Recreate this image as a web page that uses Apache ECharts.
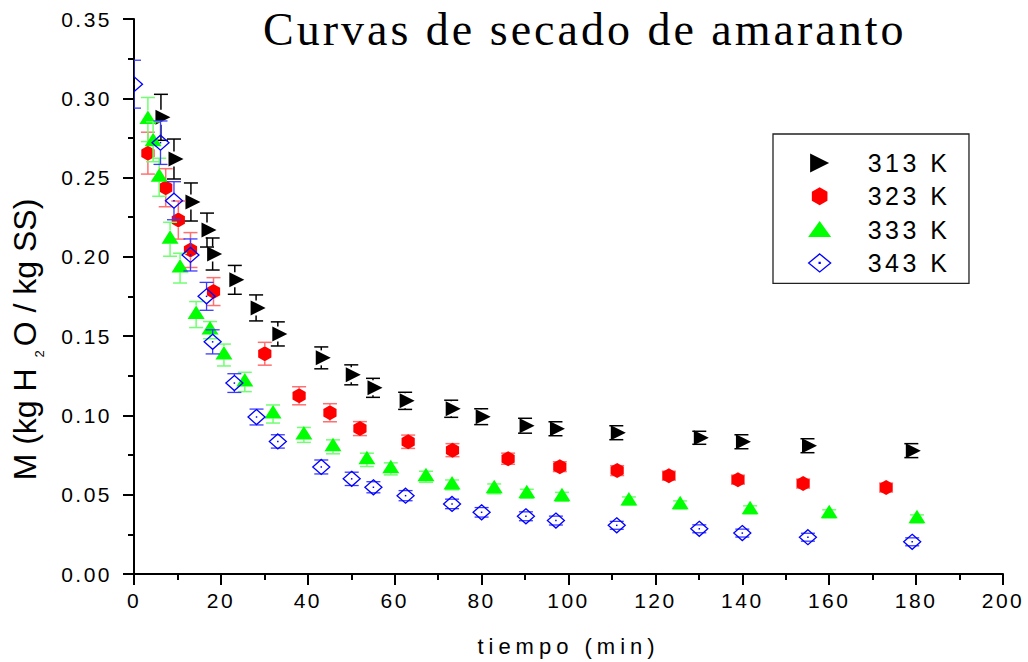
<!DOCTYPE html>
<html>
<head>
<meta charset="utf-8">
<script src="https://cdn.jsdelivr.net/npm/echarts@6/dist/echarts.min.js"></script>
<style>
  html, body { margin: 0; padding: 0; background: #fff; }
  #chart { width: 1028px; height: 662px; }
  /* spaced lettering for tick labels, axis title, legend and title */
  #chart text[style*="21px"] { letter-spacing: 2.5px; }
  #chart text[style*="22px"] { letter-spacing: 5px; }
  #chart text[style*="25px"] { letter-spacing: 3.5px; }
  #chart text[style*="46px"] { letter-spacing: 3px; }
</style>
</head>
<body>
<div id="chart"></div>
<script>
// Drying curves of amaranth: moisture M (kg H2O / kg dry solid) vs time (min)
const seriesNames = ['313 K', '323 K', '333 K', '343 K'];

const t313 = [6.2, 9.2, 13.1, 16.8, 18.1, 23.2, 28.1, 33.1, 43.1, 50.0, 55.0, 62.4, 73.0, 79.9, 90.0, 97.0, 111.0, 130.1, 139.8, 155.0, 178.9];
const m313 = [0.288, 0.2617, 0.2346, 0.2169, 0.2018, 0.1855, 0.1678, 0.1514, 0.1363, 0.1256, 0.1174, 0.1092, 0.1042, 0.0992, 0.0935, 0.0916, 0.0891, 0.0859, 0.0834, 0.0809, 0.0778];
const e313 = [0.0145, 0.0126, 0.012, 0.0107, 0.0101, 0.0091, 0.0082, 0.0076, 0.0069, 0.0063, 0.006, 0.0054, 0.0054, 0.005, 0.0047, 0.0044, 0.0044, 0.0041, 0.0044, 0.0044, 0.0044];

const t323 = [3.2, 7.3, 10.2, 13.0, 18.3, 30.1, 38.0, 45.1, 52.0, 63.1, 73.3, 86.1, 98.0, 111.2, 123.1, 139.0, 154.0, 173.1];
const m323 = [0.2654, 0.2436, 0.2232, 0.2043, 0.1781, 0.1389, 0.1124, 0.1017, 0.0917, 0.0834, 0.0781, 0.0727, 0.0677, 0.0652, 0.062, 0.0595, 0.057, 0.0545];
const e323 = [0.0132, 0.012, 0.012, 0.011, 0.0088, 0.0072, 0.0057, 0.0057, 0.0044, 0.0042, 0.0041, 0.0035, 0.0031, 0.0031, 0.0028, 0.0028, 0.0028, 0.0028];

const t333 = [3.2, 4.4, 5.8, 8.3, 10.6, 14.3, 17.5, 20.7, 25.5, 32.0, 39.1, 45.8, 53.6, 59.1, 67.2, 73.2, 82.9, 90.4, 98.5, 113.9, 125.7, 141.8, 160.0, 180.2];
const m333 = [0.2866, 0.2726, 0.2502, 0.2111, 0.1929, 0.1636, 0.1538, 0.1381, 0.1211, 0.1009, 0.0877, 0.0802, 0.072, 0.0663, 0.0613, 0.0562, 0.0537, 0.0506, 0.0487, 0.0461, 0.0436, 0.0405, 0.038, 0.0348];
const e333 = [0.0139, 0.0126, 0.012, 0.0107, 0.0094, 0.0082, 0.0054, 0.0069, 0.0061, 0.0057, 0.0047, 0.0044, 0.0042, 0.0038, 0.0035, 0.0031, 0.0031, 0.0028, 0.0028, 0.0025, 0.0025, 0.0025, 0.0025, 0.0025];

const t343 = [0, 6.1, 9.2, 13.0, 16.7, 18.1, 23.1, 28.2, 33.1, 43.1, 50.1, 55.1, 62.5, 73.2, 80.0, 90.2, 97.1, 111.1, 130.1, 140.0, 155.1, 179.1];
const m343 = [0.3089, 0.272, 0.2354, 0.2012, 0.1751, 0.1464, 0.1204, 0.099, 0.0836, 0.0675, 0.06, 0.0547, 0.0494, 0.0442, 0.0389, 0.0364, 0.0337, 0.0307, 0.0285, 0.0258, 0.0232, 0.0203];
const e343 = [0.0151, 0.0137, 0.012, 0.0101, 0.0088, 0.0076, 0.0059, 0.005, 0.0042, 0.0044, 0.0042, 0.0035, 0.0032, 0.003, 0.003, 0.0028, 0.0028, 0.0025, 0.0025, 0.0025, 0.0025, 0.0025];

const xMin = 0, xMax = 200, xStep = 20;
const yMin = 0, yMax = 0.35, yStep = 0.05;

const SANS = 'Liberation Sans';
const SERIF = 'Liberation Serif';

// Marker outlines, offsets in pixels from the data point
const markers = {
  rightTri: { pts: [[-5.5, -7.5], [9.5, 0], [-5.5, 7.5]], top: 7.5, bottom: 7.5, fill: '#000000', stroke: null },
  hexagon: { pts: [[0, -7.5], [6.6, -3.75], [6.6, 3.75], [0, 7.5], [-6.6, 3.75], [-6.6, -3.75]], top: 7.5, bottom: 7.5, fill: '#ff0000', stroke: null },
  upTri: { pts: [[0, -9], [8.5, 4.5], [-8.5, 4.5]], top: 9, bottom: 4.5, fill: '#00ff00', stroke: null },
  diamond: { pts: [[0, -7.5], [8.5, 0], [0, 7.5], [-8.5, 0]], top: 7.5, bottom: 7.5, fill: 'none', stroke: '#0000ff', dot: true }
};

function makeSeries(name, ts, ms, es, mk, color, barColor, barWidth) {
  return {
    type: 'custom',
    name: name,
    clip: true,
    itemStyle: { color: color },
    data: ts.map((t, i) => [t, ms[i], es[i]]),
    encode: { x: 0, y: 1 },
    renderItem: function (params, api) {
      const t = api.value(0), m = api.value(1), e = api.value(2);
      const p = api.coord([t, m]);
      const hi = api.coord([t, m + e])[1];
      const lo = api.coord([t, m - e])[1];
      const half = 7;
      const bar = { stroke: barColor, lineWidth: barWidth };
      const kids = [];
      if (hi < p[1] - mk.top) {
        kids.push({ type: 'line', shape: { x1: p[0], y1: hi, x2: p[0], y2: p[1] - mk.top }, style: bar });
      }
      if (lo > p[1] + mk.bottom) {
        kids.push({ type: 'line', shape: { x1: p[0], y1: p[1] + mk.bottom, x2: p[0], y2: lo }, style: bar });
      }
      kids.push({ type: 'line', shape: { x1: p[0] - half, y1: hi, x2: p[0] + half, y2: hi }, style: bar });
      kids.push({ type: 'line', shape: { x1: p[0] - half, y1: lo, x2: p[0] + half, y2: lo }, style: bar });
      kids.push({
        type: 'polygon',
        shape: { points: mk.pts.map(q => [p[0] + q[0], p[1] + q[1]]) },
        style: mk.stroke ? { fill: 'none', stroke: mk.stroke, lineWidth: 1.3 } : { fill: mk.fill }
      });
      if (mk.dot) {
        kids.push({ type: 'rect', shape: { x: p[0] - 0.75, y: p[1] - 0.75, width: 1.5, height: 1.5 }, style: { fill: mk.stroke } });
      }
      return { type: 'group', children: kids };
    }
  };
}

const chart = echarts.init(document.getElementById('chart'), null, { renderer: 'svg' });

const axisCommon = {
  type: 'value',
  axisLine: { show: true, onZero: false, lineStyle: { color: '#000', width: 2 } },
  axisTick: { show: true, inside: false, length: 11, lineStyle: { color: '#000', width: 2 } },
  minorTick: { show: true, splitNumber: 2, length: 6, lineStyle: { color: '#000', width: 2 } },
  splitLine: { show: false },
  minorSplitLine: { show: false }
};

chart.setOption({
  animation: false,
  backgroundColor: '#ffffff',
  title: {
    text: 'Curvas de secado de amaranto',
    left: 263,
    top: 6,
    padding: 0,
    textStyle: { fontFamily: SERIF, fontSize: 46, fontWeight: 'normal', color: '#000' }
  },
  grid: { left: 134, right: 25, top: 19, bottom: 87.5, containLabel: false },
  xAxis: Object.assign({}, axisCommon, {
    min: xMin, max: xMax, interval: xStep,
    name: 'tiempo (min)',
    nameLocation: 'middle',
    nameGap: 61,
    nameTextStyle: { fontFamily: SANS, fontSize: 22, color: '#000' },
    axisLabel: { fontFamily: SANS, fontSize: 21, color: '#000', margin: 16 }
  }),
  yAxis: Object.assign({}, axisCommon, {
    min: yMin, max: yMax, interval: yStep,
    name: '{a|M (kg H }{s|2}{a|O / kg SS)}',
    nameLocation: 'middle',
    nameRotate: 90,
    nameGap: 88,
    nameTextStyle: {
      color: '#000',
      padding: [0, 86, 0, 0],
      rich: {
        a: { fontFamily: SANS, fontSize: 32, color: '#000' },
        s: { fontFamily: SANS, fontSize: 13, color: '#000', padding: [30, 4, 0, 2] }
      }
    },
    axisLabel: {
      fontFamily: SANS, fontSize: 21, color: '#000', margin: 22,
      formatter: v => v.toFixed(2)
    }
  }),
  legend: {
    orient: 'vertical',
    left: 773,
    top: 134,
    padding: [16.5, 36, 8, 34.5],
    itemGap: 8.3,
    itemWidth: 23,
    itemHeight: 19,
    borderColor: '#222',
    borderWidth: 1.3,
    selectedMode: false,
    textStyle: { fontFamily: SANS, fontSize: 25, color: '#000', padding: [0, 0, 0, 31.5] },
    data: [
      { name: seriesNames[0], icon: 'path://M0,0M23,19M2,0L21,9.5L2,19Z' },
      { name: seriesNames[1], icon: 'path://M0,0M23,19M11.5,0.5L19.3,5L19.3,14L11.5,18.5L3.7,14L3.7,5Z' },
      { name: seriesNames[2], icon: 'path://M0,0M23,19M11.5,1L23,17L0,17Z' },
      {
        name: seriesNames[3],
        icon: 'path://M0,0M23,19M11.5,0.5L22.5,9.5L11.5,18.5L0.5,9.5Z M11,9L12,9L12,10L11,10Z',
        itemStyle: { color: 'rgba(0,0,0,0)', borderColor: '#0000ff', borderWidth: 1.3 }
      }
    ]
  },
  series: [
    makeSeries(seriesNames[0], t313, m313, e313, markers.rightTri, '#000000', '#000000', 1.5),
    makeSeries(seriesNames[1], t323, m323, e323, markers.hexagon, '#ff0000', '#ff7070', 1.5),
    makeSeries(seriesNames[2], t333, m333, e333, markers.upTri, '#00ff00', '#70ff70', 1.5),
    makeSeries(seriesNames[3], t343, m343, e343, markers.diamond, '#0000ff', '#3a3aff', 1.3)
  ]
});
</script>
</body>
</html>
